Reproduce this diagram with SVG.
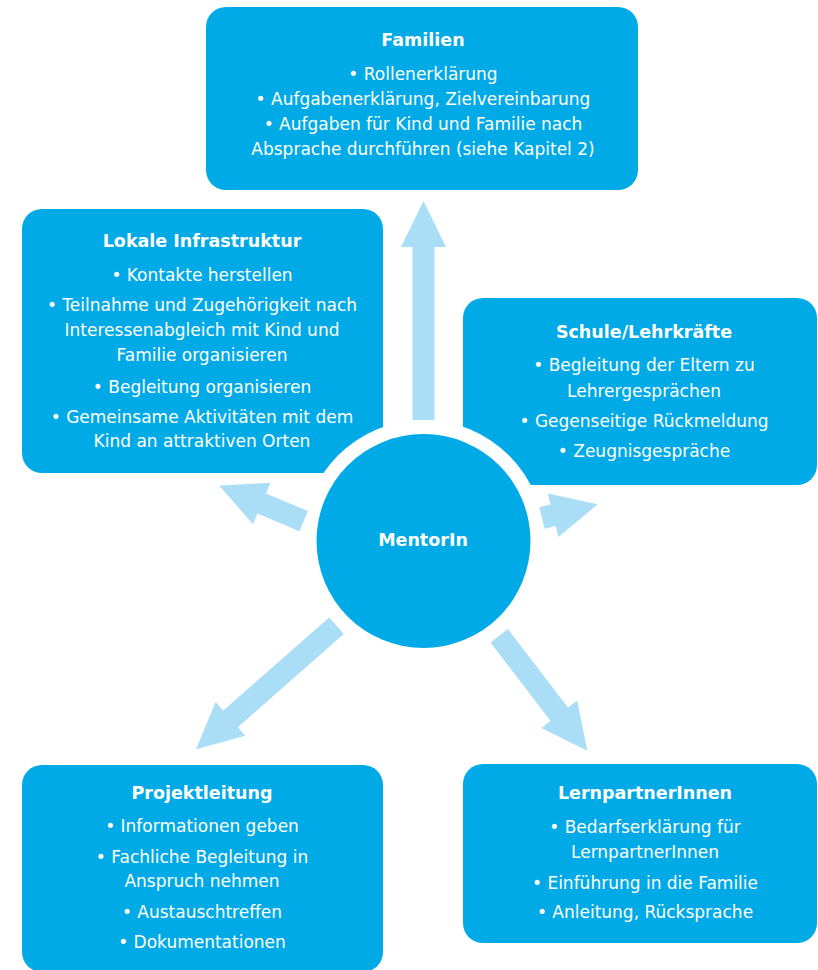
<svg xmlns="http://www.w3.org/2000/svg" width="818" height="970" viewBox="0 0 818 970">
<style>
.box{fill:#00AAE7}
.arrow{fill:#A9DEF6}
.t{font-family:"DejaVu Sans",sans-serif;font-size:17px;fill:#fff;text-anchor:middle}
.h{font-family:"DejaVu Sans",sans-serif;font-size:17.5px;font-weight:bold;fill:#fff;text-anchor:middle}
</style>
<rect width="818" height="970" fill="#fff"/>
<g id="familien">
<rect class="box" x="206" y="7" width="432" height="183" rx="20"/>
<text class="h" x="423" y="46">Familien</text>
<text class="t" x="423" y="80">• Rollenerklärung</text>
<text class="t" x="423" y="105">• Aufgabenerklärung, Zielvereinbarung</text>
<text class="t" x="423" y="130">• Aufgaben für Kind und Familie nach</text>
<text class="t" x="423" y="155">Absprache durchführen (siehe Kapitel 2)</text>
</g>
<g id="lokale">
<rect class="box" x="22" y="209" width="361" height="264" rx="20"/>
<text class="h" x="202" y="247">Lokale Infrastruktur</text>
<text class="t" x="202" y="281">• Kontakte herstellen</text>
<text class="t" x="202" y="311">• Teilnahme und Zugehörigkeit nach</text>
<text class="t" x="202" y="336">Interessenabgleich mit Kind und</text>
<text class="t" x="202" y="361">Familie organisieren</text>
<text class="t" x="202" y="393">• Begleitung organisieren</text>
<text class="t" x="202" y="423">• Gemeinsame Aktivitäten mit dem</text>
<text class="t" x="202" y="447">Kind an attraktiven Orten</text>
</g>
<g id="schule">
<rect class="box" x="463" y="298" width="354" height="187" rx="20"/>
<text class="h" x="644" y="338">Schule/Lehrkräfte</text>
<text class="t" x="644" y="371">• Begleitung der Eltern zu</text>
<text class="t" x="644" y="397">Lehrergesprächen</text>
<text class="t" x="644" y="427">• Gegenseitige Rückmeldung</text>
<text class="t" x="644" y="457">• Zeugnisgespräche</text>
</g>
<g id="projektleitung">
<rect class="box" x="22" y="765" width="361" height="207" rx="20"/>
<text class="h" x="202" y="799">Projektleitung</text>
<text class="t" x="202" y="832">• Informationen geben</text>
<text class="t" x="202" y="863">• Fachliche Begleitung in</text>
<text class="t" x="202" y="887">Anspruch nehmen</text>
<text class="t" x="202" y="918">• Austauschtreffen</text>
<text class="t" x="202" y="948">• Dokumentationen</text>
</g>
<g id="lernpartner">
<rect class="box" x="463" y="764" width="354" height="179" rx="20"/>
<text class="h" x="645" y="799">LernpartnerInnen</text>
<text class="t" x="645" y="833">• Bedarfserklärung für</text>
<text class="t" x="645" y="858">LernpartnerInnen</text>
<text class="t" x="645" y="889">• Einführung in die Familie</text>
<text class="t" x="645" y="918">• Anleitung, Rücksprache</text>
</g>
<circle cx="423.5" cy="541" r="121" fill="#fff"/>
<g id="connectors">
<polygon class="arrow" points="412.5,420 412.5,247 401,247 423.5,201 446,247 434.5,247 434.5,420"/>
<polygon class="arrow" points="308,511.1 266,493.4 270.4,482.8 219.3,485.7 253,524.3 257.4,513.6 299.4,531.3"/>
<polygon class="arrow" points="539.4,507.3 550.5,504.6 547.7,493.5 597.7,504.3 558.5,537.1 555.7,526 544.6,528.7"/>
<polygon class="arrow" points="329.2,617.5 223.2,710.6 215.6,702 196,749.3 245.4,735.8 237.8,727.2 343.8,634.1"/>
<polygon class="arrow" points="507.9,629.1 568,707.5 577.2,700.5 587.3,750.7 541.4,727.9 550.6,720.9 490.5,642.5"/>
</g>
<g id="mentorin">
<circle class="box" cx="423.5" cy="541" r="107"/>
<text class="h" x="423" y="546">MentorIn</text>
</g>
</svg>
